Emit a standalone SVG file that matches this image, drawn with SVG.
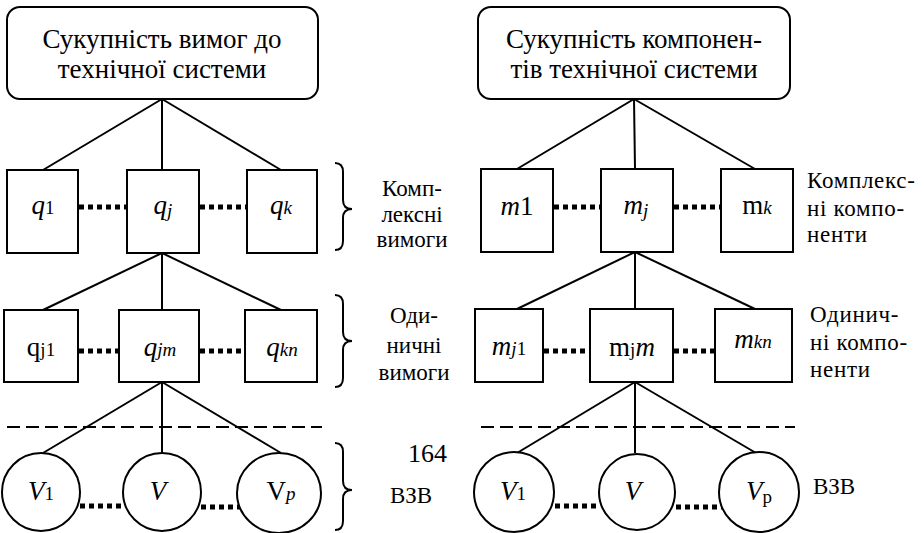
<svg xmlns="http://www.w3.org/2000/svg" width="924" height="533" viewBox="0 0 924 533" font-family="'Liberation Serif', 'DejaVu Serif', serif">
<style>
.b{fill:#fff;stroke:#000;stroke-width:2}
.c{fill:none;stroke:#000;stroke-width:2}
.d{fill:none;stroke:#000;stroke-width:5;stroke-dasharray:5 4}
.ds{fill:none;stroke:#000;stroke-width:2;stroke-dasharray:13 6}
.br{fill:none;stroke:#000;stroke-width:2}
text, tspan{font-family:'Liberation Serif', 'DejaVu Serif', serif;fill:#000}
.t{font-size:27px;text-anchor:middle}
.n{font-size:27px;text-anchor:middle}
.i{font-style:italic}
.s{font-size:19px}
.l{font-size:23px;text-anchor:middle}
.r{font-size:23px;letter-spacing:0.7px}
</style>
<rect width="924" height="533" fill="#fff"/>
<g id="connectors">
<line class="c" x1="162" y1="99" x2="43" y2="170"/>
<line class="c" x1="162" y1="99" x2="162" y2="170"/>
<line class="c" x1="162" y1="99" x2="281" y2="170"/>
<line class="c" x1="162" y1="253" x2="43" y2="310"/>
<line class="c" x1="162" y1="253" x2="162" y2="310"/>
<line class="c" x1="162" y1="253" x2="281" y2="310"/>
<line class="c" x1="162" y1="382" x2="43" y2="453"/>
<line class="c" x1="162" y1="382" x2="162" y2="453"/>
<line class="c" x1="162" y1="382" x2="281" y2="453"/>
<line class="c" x1="634" y1="99" x2="517" y2="169"/>
<line class="c" x1="634" y1="99" x2="635" y2="169"/>
<line class="c" x1="634" y1="99" x2="755" y2="169"/>
<line class="c" x1="635" y1="252" x2="517" y2="309"/>
<line class="c" x1="635" y1="252" x2="635" y2="309"/>
<line class="c" x1="635" y1="252" x2="755" y2="309"/>
<line class="c" x1="635" y1="382" x2="517" y2="453"/>
<line class="c" x1="635" y1="382" x2="635" y2="453"/>
<line class="c" x1="635" y1="382" x2="756" y2="453"/>
<line class="d" x1="79" y1="207" x2="127" y2="207"/>
<line class="d" x1="200" y1="207" x2="247" y2="207"/>
<line class="d" x1="554" y1="207" x2="601" y2="207"/>
<line class="d" x1="674" y1="207" x2="721" y2="207"/>
<line class="d" x1="79" y1="351" x2="127" y2="351"/>
<line class="d" x1="200" y1="351" x2="248" y2="351"/>
<line class="d" x1="544" y1="351" x2="601" y2="351"/>
<line class="d" x1="674" y1="351" x2="723" y2="351"/>
<line class="d" x1="80" y1="506" x2="124" y2="506"/>
<line class="d" x1="201" y1="507" x2="248" y2="507"/>
<line class="d" x1="555" y1="506" x2="599" y2="506"/>
<line class="d" x1="676" y1="507" x2="724" y2="507"/>
<line class="ds" x1="7" y1="427" x2="322" y2="427"/>
<line class="ds" x1="481" y1="427" x2="795" y2="427"/>
<path class="br" d="M335 163 Q343 163 343 172 L343 200 Q343 209 352 209 Q343 209 343 218 L343 241 Q343 250 335 250"/>
<path class="br" d="M335 295 Q343 295 343 304 L343 332 Q343 341 352 341 Q343 341 343 350 L343 378 Q343 387 335 387"/>
<path class="br" d="M335 443 Q343 443 343 452 L343 481 Q343 490 352 490 Q343 490 343 499 L343 521 Q343 530 335 530"/>
</g>
<g id="top-left">
<rect class="b" x="7" y="7" width="311" height="92" rx="13"/>
<text class="t" x="162" y="48">Сукупність вимог до</text>
<text class="t" x="162" y="78">технічної системи</text>
</g>
<g id="top-right">
<rect class="b" x="478" y="7" width="312" height="92" rx="13"/>
<text class="t" x="634" y="48">Сукупність компонен-</text>
<text class="t" x="634" y="78">тів технічної системи</text>
</g>
<g id="q1"><rect class="b" x="7" y="170" width="71" height="83"/><text class="n" x="43" y="214"><tspan class="i">q</tspan><tspan class="s">1</tspan></text></g>
<g id="qj"><rect class="b" x="127" y="170" width="72" height="83"/><text class="n" x="163" y="214"><tspan class="i">q</tspan><tspan class="s i" dy="3">j</tspan></text></g>
<g id="qk"><rect class="b" x="247" y="170" width="70" height="83"/><text class="n" x="281" y="214"><tspan class="i">q</tspan><tspan class="s i">k</tspan></text></g>
<g id="label-complex-req">
<text class="l" x="412" y="196">Комп-</text>
<text class="l" x="412" y="222">лексні</text>
<text class="l" x="412" y="247">вимоги</text>
</g>
<g id="m1"><rect class="b" x="481" y="169" width="72" height="83"/><text class="n" x="517" y="215"><tspan class="i">m</tspan>1</text></g>
<g id="mj"><rect class="b" x="601" y="169" width="72" height="83"/><text class="n" x="636" y="214"><tspan class="i">m</tspan><tspan class="s i" dy="3">j</tspan></text></g>
<g id="mk"><rect class="b" x="721" y="169" width="72" height="83"/><text class="n" x="757" y="214">m<tspan class="s i">k</tspan></text></g>
<g id="label-complex-comp">
<text class="r" x="807" y="188">Комплекс-</text>
<text class="r" x="807" y="216">ні компо-</text>
<text class="r" x="807" y="242">ненти</text>
</g>
<g id="qj1"><rect class="b" x="4" y="310" width="74" height="72"/><text class="n" x="41" y="356">q<tspan class="s">j1</tspan></text></g>
<g id="qjm"><rect class="b" x="119" y="310" width="80" height="72"/><text class="n" x="160" y="356"><tspan class="i">q</tspan><tspan class="s i">jm</tspan></text></g>
<g id="qkn"><rect class="b" x="245" y="310" width="72" height="72"/><text class="n" x="282" y="356"><tspan class="i">q</tspan><tspan class="s i">kn</tspan></text></g>
<g id="label-single-req">
<text class="l" x="414" y="323">Оди-</text>
<text class="l" x="414" y="353">ничні</text>
<text class="l" x="414" y="380">вимоги</text>
</g>
<g id="mj1"><rect class="b" x="475" y="309" width="68" height="73"/><text class="n" x="509" y="355"><tspan class="i">m</tspan><tspan class="s i">j</tspan><tspan class="s">1</tspan></text></g>
<g id="mjm"><rect class="b" x="590" y="309" width="83" height="73"/><text class="n" x="632" y="356">m<tspan class="s">j</tspan><tspan class="i">m</tspan></text></g>
<g id="mkn"><rect class="b" x="715" y="309" width="77" height="73"/><text class="n" x="753" y="348"><tspan class="i">m</tspan><tspan class="s i">kn</tspan></text></g>
<g id="label-single-comp">
<text class="r" x="810" y="322">Одинич-</text>
<text class="r" x="810" y="350">ні компо-</text>
<text class="r" x="810" y="377">ненти</text>
</g>
<g id="V1-left"><circle class="b" cx="41" cy="492" r="39"/><text class="n" x="41" y="500"><tspan class="i">V</tspan><tspan class="s">1</tspan></text></g>
<g id="V-left"><circle class="b" cx="162" cy="492" r="39"/><text class="n i" x="158" y="500">V</text></g>
<g id="Vp-left"><ellipse class="b" cx="279" cy="493" rx="42" ry="40"/><text class="n" x="281" y="500">V<tspan class="s i">p</tspan></text></g>
<g id="label-vzv-left">
<text style="font-size:26px" x="408" y="462">164</text>
<text style="font-size:23px" x="390" y="503">ВЗВ</text>
</g>
<g id="V1-right"><circle class="b" cx="514" cy="492" r="40"/><text class="n" x="513" y="500"><tspan class="i">V</tspan><tspan class="s">1</tspan></text></g>
<g id="V-right"><circle class="b" cx="637" cy="492" r="38"/><text class="n i" x="633" y="500">V</text></g>
<g id="Vp-right"><circle class="b" cx="759" cy="492" r="40"/><text class="n" x="759" y="500"><tspan class="i">V</tspan><tspan class="s" dy="3">p</tspan></text></g>
<g id="label-vzv-right">
<text style="font-size:23px" x="813" y="494">ВЗВ</text>
</g>
</svg>
